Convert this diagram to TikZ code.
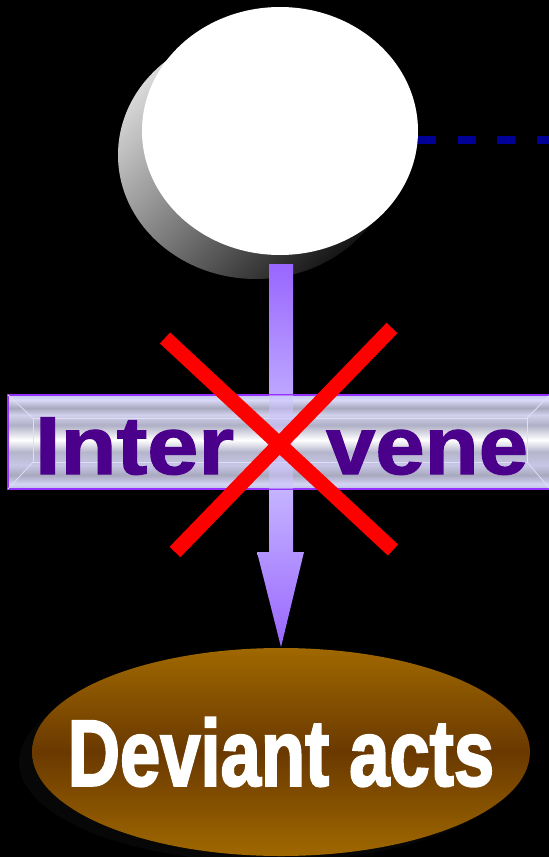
\documentclass[tikz,border=0pt]{standalone}
\usepackage{fontspec}
\setmainfont{Liberation Sans}
\newfontfamily\heavysans{Liberation Sans}[BoldFeatures={FakeBold=2.5}]
\newfontfamily\blacksans{Liberation Sans}[BoldFeatures={FakeBold=1.5}]
\usetikzlibrary{calc,shapes.geometric}
\definecolor{arrowpurple}{RGB}{153,102,255}
\definecolor{arrowpale}{RGB}{206,196,255}
\definecolor{boxedge}{RGB}{150,50,255}
\definecolor{intervenetext}{RGB}{75,0,140}
\definecolor{linkblue}{RGB}{0,0,150}
\definecolor{actsedge}{RGB}{160,104,0}
\definecolor{actsmid}{RGB}{106,57,0}
\definecolor{actsshadow}{RGB}{7,7,7}
\definecolor{bevel}{RGB}{222,222,248}
\pgfdeclareverticalshading{boxstripes}{100bp}{rgb(0bp)=(0.75,0.75,0.88); rgb(25bp)=(0.75,0.75,0.88);
  rgb(27.7bp)=(0.83,0.83,0.96); rgb(32.4bp)=(0.66,0.66,0.75); rgb(37.8bp)=(0.78,0.78,0.9);
  rgb(44.7bp)=(0.71,0.71,0.8); rgb(51.1bp)=(1,1,1); rgb(59bp)=(0.69,0.69,0.78);
  rgb(64.4bp)=(0.82,0.82,0.93); rgb(68.1bp)=(0.66,0.66,0.75); rgb(72.3bp)=(0.85,0.85,0.97);
  rgb(75bp)=(0.78,0.78,0.92); rgb(100bp)=(0.78,0.78,0.92)}

\begin{document}
\begin{tikzpicture}[x=1pt,y=-1pt,
  every node/.style={inner sep=0pt,outer sep=0pt},
  discface/.style={ellipse,fill=white,minimum width=276pt,minimum height=248pt},
  discside/.style={top color=black!15,bottom color=black!92,shading angle=45},
  linkdash/.style={linkblue,line width=8pt,dash pattern=on 18pt off 21.5pt},
  arrowfill/.style={top color=arrowpurple,bottom color=arrowpurple,middle color=arrowpale},
  stripebox/.style={rectangle,draw=boxedge,line width=2pt,shading=boxstripes,
    minimum width=542pt,minimum height=94pt},
  boxword/.style={text=intervenetext,font=\fontsize{82}{82}\blacksans\bfseries},
  actsblob/.style={ellipse,top color=actsedge,bottom color=actsedge,middle color=actsmid,
    minimum width=498pt,minimum height=208pt},
  actsword/.style={text=white,font=\fontsize{94}{94}\heavysans\bfseries},
  cross/.style={red,line width=15pt}]
\useasboundingbox (0,0) rectangle (549,857);
\fill[black] (0,0) rectangle (549,857);

\shade[discside] (256,155) ellipse [x radius=138pt,y radius=124pt];
\node[discface] (disc) at (280,131) {};
\coordinate (linkend) at (549,140);
\draw[linkdash] ($(disc.east)+(0,9)$) -- (linkend);

\fill[actsshadow] (268,762) ellipse [x radius=249pt,y radius=100pt];
\node[actsblob] (acts) at (281,752) {};
\node[actsword] (actslabel) at (acts.center) {\scalebox{0.77}[1]{Deviant acts}};

\coordinate (atop) at ($(disc.south)+(1,9)$);
\coordinate (atip) at ($(acts.north)+(0,-1)$);
\shade[arrowfill] ($(atop)+(-12,0)$) -- ($(atop)+(12,0)$) -- ($(atip)+(12,-95)$)
  -- ($(atip)+(23,-95)$) -- (atip) -- ($(atip)+(-24,-95)$) -- ($(atip)+(-12,-95)$) -- cycle;

\node[stripebox] (box) at (279,442) {};
\draw[bevel,line width=.8pt] ($(box.north west)+(25,23)$) rectangle ($(box.south east)+(-23,-27)$);
\draw[bevel,line width=.8pt] (box.north west) -- ++(25,23) (box.south west) -- ++(25,-27)
  (box.north east) -- ++(-23,23) (box.south east) -- ++(-23,-27);
\coordinate (sl) at ($(atop)+(-12,0)$);
\coordinate (sr) at ($(atop)+(12,0)$);
\fill[arrowpale,opacity=.55] (sl |- box.north) rectangle (sr |- box.south);
\node[boxword,anchor=base west] (inter) at ($(box.west)+(27,32)$) {\scalebox{1.12}[1]{Inter}};
\node[boxword,anchor=base east] (vene) at ($(box.east)+(-22,32)$) {\scalebox{1.08}[1]{vene}};

\coordinate (xa) at (165,338);
\coordinate (xb) at (393,550);
\coordinate (xc) at (392,328);
\coordinate (xd) at (175,552);
\draw[cross] (xa) -- (xb);
\draw[cross] (xc) -- (xd);
\end{tikzpicture}
\end{document}
